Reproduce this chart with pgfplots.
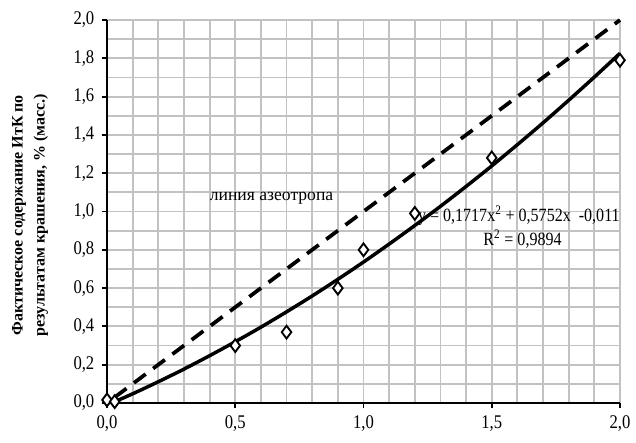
\documentclass[border=0pt]{standalone}
\usepackage{pgfplots}
\pgfplotsset{compat=1.18}
\usetikzlibrary{calc}
\usepackage{fontspec}
\setmainfont{Liberation Serif}
\newfontfamily\narrowserif[FakeStretch=0.86]{Liberation Serif}

\begin{document}
\begin{tikzpicture}
\begin{axis}[
    name=ax,
    scale only axis,
    width=384.75pt,
    height=287.25pt,
    xmin=0, xmax=2,
    ymin=0, ymax=2,
    xtick={0,0.5,1,1.5,2},
    ytick={0,0.2,...,2.01},
    minor x tick num=4,
    minor y tick num=1,
    grid=both,
    major grid style={gray!48, line width=1.4pt},
    minor grid style={gray!48, line width=1.4pt},
    axis x line*=bottom,
    axis y line*=left,
    axis line style={-, line width=1.6pt},
    tick align=outside,
    major tick length=4pt,
    minor tick length=0pt,
    major tick style={black, line width=1.4pt},
    tick label style={font=\narrowserif\fontsize{14.5}{16}\selectfont},
    yticklabel style={xshift=-2pt},
    xticklabel style={yshift=-2pt},
    /pgf/number format/assume math mode=true,
    /pgf/number format/.cd, use comma, fixed, fixed zerofill, precision=1,
    /pgfplots/.cd,
    ylabel={Фактическое содержание ИтК по\\результатам крашения, \% (масс.)},
    ylabel style={font=\bfseries\fontsize{12}{16.5}\selectfont, align=center,
        at={(rel axis cs:-0.15,0.49)}, anchor=center},
    clip=false,
]
% линия азеотропа
\addplot[black, line width=2.8pt, dash pattern=on 11pt off 7pt] coordinates {(0.03,0.03) (2,2)};

% полиномиальный тренд (значения по уравнению)
\addplot[black, line width=2.6pt, smooth] coordinates {
    (0.02,0.001) (0.1,0.048) (0.2,0.111) (0.3,0.177) (0.4,0.247) (0.5,0.320)
    (0.6,0.396) (0.7,0.476) (0.8,0.559) (0.9,0.646) (1.0,0.736) (1.1,0.830)
    (1.2,0.927) (1.3,1.027) (1.4,1.131) (1.5,1.238) (1.6,1.349) (1.7,1.463)
    (1.8,1.581) (1.9,1.702) (2.0,1.826)
};

% экспериментальные точки
\addplot[only marks, mark=diamond*, mark size=4.8pt,
    mark options={fill=white, draw=black, line width=1.4pt}] coordinates {
    (0,0.016) (0.03,0.007) (0.5,0.30) (0.7,0.37) (0.9,0.60) (1.0,0.80)
    (1.2,0.99) (1.5,1.28) (2.0,1.79)
};

\node[anchor=west, font=\fontsize{13.2}{15}\selectfont, inner sep=0pt]
    at (axis cs:0.40,1.07) {линия азеотропа};
\node[anchor=east, font=\narrowserif\fontsize{14}{16}\selectfont, inner sep=0pt]
    at (axis cs:2.0,0.98) {y = 0,1717x\textsuperscript{2} + 0,5752x\ \ -0,011};
\node[anchor=center, font=\narrowserif\fontsize{14}{16}\selectfont, inner sep=0pt]
    at (axis cs:1.62,0.855) {R\textsuperscript{2} = 0,9894};
\end{axis}
\path ($(ax.south west)+(-80.25pt,-30pt)$) rectangle ($(ax.north east)+(12pt,15pt)$);
\end{tikzpicture}
\end{document}
